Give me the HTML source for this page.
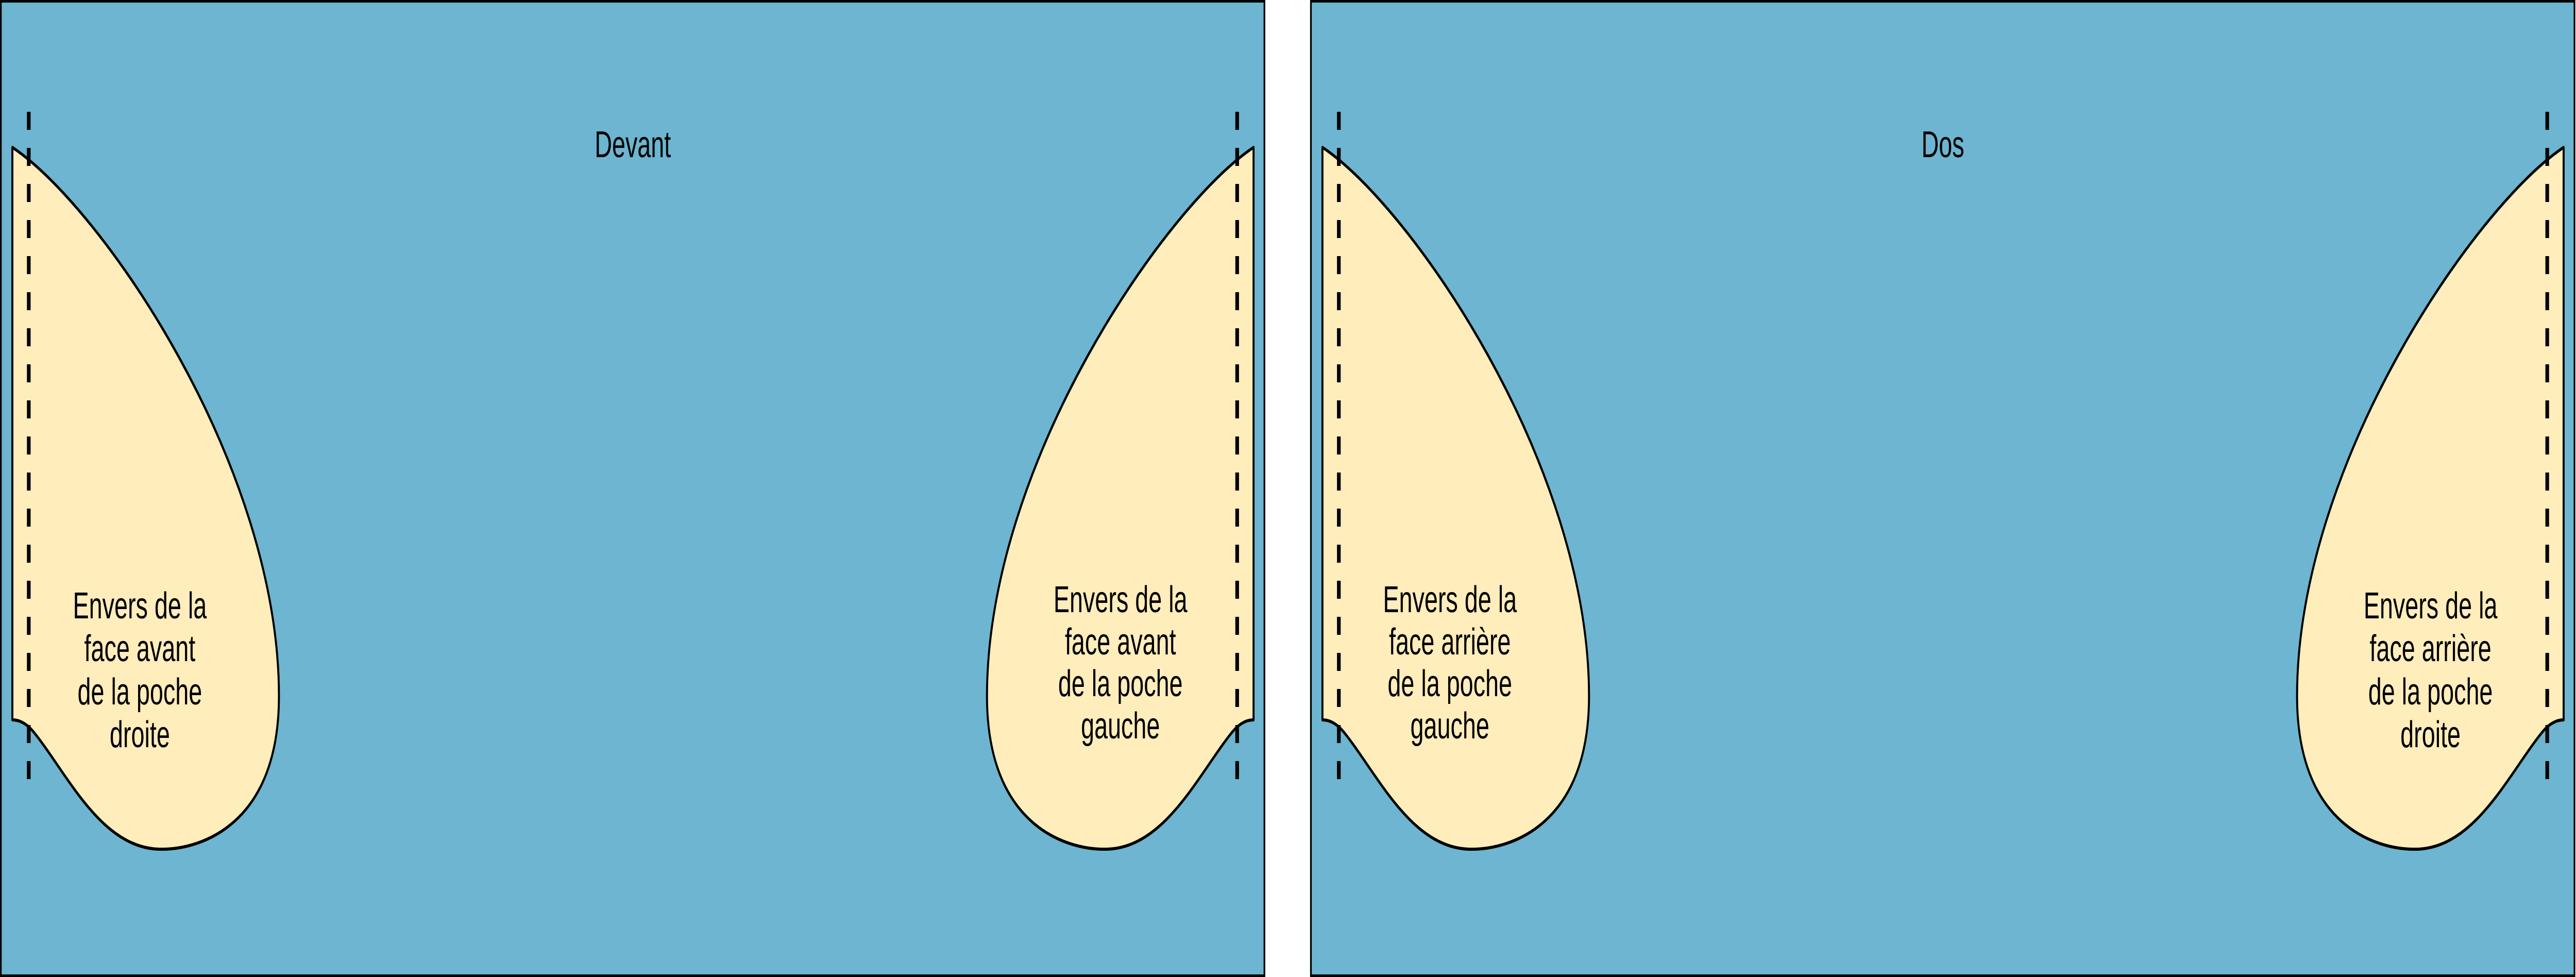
<!DOCTYPE html>
<html><head><meta charset="utf-8"><style>
html,body{margin:0;padding:0;background:#fff;overflow:hidden;}
svg{display:block;width:100vw;height:100vh;}
text{font-family:"Liberation Sans",sans-serif;font-size:72px;fill:#000;text-anchor:middle;}
</style></head><body>
<svg viewBox="0 0 7702 1896" preserveAspectRatio="none" xmlns="http://www.w3.org/2000/svg">
<defs>
<g id="pl">
<path d="M37,286 C300,400 834,900 834,1351 C834,1600 600,1650 476,1648 C300,1645 200,1500 100,1420 Q70,1397 37,1397 Z" fill="#ffedbc" stroke="#000" stroke-width="6" stroke-linejoin="round"/>
<line x1="86" y1="217" x2="86" y2="1530" stroke="#000" stroke-width="11" stroke-dasharray="35,35"/>
</g>
<g id="panel">
<rect x="2.5" y="2.5" width="3778" height="1891" fill="#6db5d0" stroke="#000" stroke-width="5"/>
<use href="#pl"/>
<use href="#pl" transform="translate(3785,0) scale(-1,1)"/>
</g>
</defs>
<use href="#panel"/>
<use href="#panel" transform="translate(3917,0)"/>

<text x="1892" y="305">Devant</text>
<text x="418" y="1200">Envers de la</text>
<text x="418" y="1283">face avant</text>
<text x="418" y="1367">de la poche</text>
<text x="418" y="1450">droite</text>
<text x="3350" y="1188">Envers de la</text>
<text x="3350" y="1270">face avant</text>
<text x="3350" y="1351">de la poche</text>
<text x="3350" y="1433">gauche</text>

<text x="5809" y="305">Dos</text>
<text x="4335" y="1188">Envers de la</text>
<text x="4335" y="1270">face arrière</text>
<text x="4335" y="1351">de la poche</text>
<text x="4335" y="1433">gauche</text>
<text x="7267" y="1200">Envers de la</text>
<text x="7267" y="1283">face arrière</text>
<text x="7267" y="1367">de la poche</text>
<text x="7267" y="1450">droite</text>
</svg>
</body></html>
